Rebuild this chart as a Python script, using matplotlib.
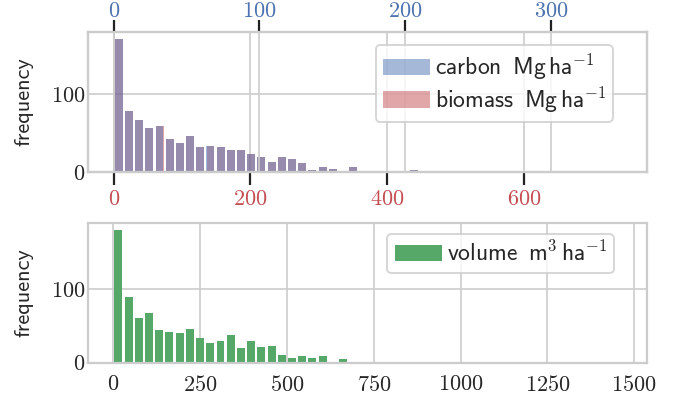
import numpy as np
import matplotlib
matplotlib.use("Agg")
import matplotlib.pyplot as plt
from matplotlib.ticker import FuncFormatter

# --- data: histogram counts (30 bins each) ---
biomass_counts = [170, 78, 67, 57, 59, 42, 37, 46, 32, 33, 32, 28, 28, 23, 19,
                  13, 19, 17, 11, 3, 7, 4, 0, 6, 0, 0, 0, 0, 0, 2]
carbon_counts = [170, 78, 67, 57, 59, 42, 37, 46, 32, 33, 32, 28, 28, 23, 19,
                 13, 19, 17, 11, 3, 7, 4, 0, 6, 0, 0, 0, 0, 0, 2]
volume_counts = [181, 89, 61, 68, 45, 42, 41, 46, 34, 27, 30, 38, 20, 30, 22,
                 23, 10, 6, 9, 6, 9, 1, 5, 1, 0, 1, 0, 0, 0, 0]
biomass_bin_width = 14.9
carbon_bin_width = 6.99
volume_bin_width = 29.4

biomass_ticks = [0, 200, 400, 600]
carbon_ticks = [0, 100, 200, 300]
volume_ticks = [0, 250, 500, 750, 1000, 1250, 1500]

BLUE = "#4C72B0"
RED = "#C44E52"
GREEN = "#55A868"
GRID = "#cccccc"
TEXT = "#262626"

plt.rcParams["font.family"] = "cmss10"
plt.rcParams["mathtext.fontset"] = "cm"
plt.rcParams["axes.unicode_minus"] = False
plt.rcParams["font.size"] = 16

# tick numbers in computer modern roman, like the LaTeX original
cm_numbers = FuncFormatter(lambda v, pos: f"${v:g}$")

fig = plt.figure(figsize=(6.81, 3.98), dpi=100)
ax_b = fig.add_axes([0.1292, 0.5678, 0.8204, 0.3526])
ax_v = fig.add_axes([0.1292, 0.0887, 0.8204, 0.3502])


def style_axes(ax):
    for sp in ax.spines.values():
        sp.set_color(GRID)
        sp.set_linewidth(1.6)
    ax.grid(True, color=GRID, linewidth=1.2)
    ax.set_axisbelow(True)
    ax.tick_params(axis="y", length=0, pad=2, labelcolor=TEXT, labelsize=16)
    ax.xaxis.set_major_formatter(cm_numbers)
    ax.yaxis.set_major_formatter(cm_numbers)


def draw_hist(ax, counts, width, color, alpha):
    left = np.arange(len(counts)) * width
    return ax.bar(left + width / 2, counts, width=0.78 * width,
                  color=color, alpha=alpha, linewidth=0)


# --- top panel: biomass (bottom axis) and carbon (top axis) ---
style_axes(ax_b)
h_bio = draw_hist(ax_b, biomass_counts, biomass_bin_width, RED, 0.5)
ax_b.set_xlim(-37.6, 779.5)
ax_b.set_ylim(0, 180)
ax_b.set_xticks(biomass_ticks)
ax_b.set_yticks([0, 100])
ax_b.tick_params(axis="x", direction="out", length=9, width=1.6,
                 color="#222222", labelcolor=RED, pad=4, labelsize=16)
ax_b.set_ylabel("frequency", color=TEXT)
ax_b.yaxis.set_label_coords(-0.097, 0.5)

ax_c = ax_b.twiny()
for sp in ax_c.spines.values():
    sp.set_color(GRID)
    sp.set_linewidth(1.6)
h_car = draw_hist(ax_c, carbon_counts, carbon_bin_width, BLUE, 0.5)
ax_c.set_xlim(-17.6, 365.6)
ax_c.set_xticks(carbon_ticks)
ax_c.xaxis.set_major_formatter(cm_numbers)
ax_c.grid(True, axis="x", color=GRID, linewidth=1.2)
ax_c.tick_params(axis="x", direction="out", length=9, width=1.6,
                 color="#222222", labelcolor=BLUE, pad=-1.5, labelsize=16)

leg = ax_c.legend([h_car, h_bio],
                  [r"carbon $\,$Mg$\,$ha$^{-1}$",
                   r"biomass $\,$Mg$\,$ha$^{-1}\hspace{0.6}$"],
                  loc="upper right", bbox_to_anchor=(0.94, 0.905),
                  borderaxespad=0, handletextpad=0.2, labelspacing=0.1,
                  borderpad=0.3, fancybox=True, framealpha=0.8,
                  edgecolor=GRID, fontsize=17)
leg.get_frame().set_linewidth(1.4)
for t in leg.get_texts():
    t.set_color(TEXT)

# --- bottom panel: volume ---
style_axes(ax_v)
h_vol = draw_hist(ax_v, volume_counts, volume_bin_width, GREEN, 1.0)
ax_v.set_xlim(-72.8, 1535.8)
ax_v.set_ylim(0, 190)
ax_v.set_xticks(volume_ticks)
ax_v.set_yticks([0, 100])
ax_v.tick_params(axis="x", length=0, pad=8.5, labelcolor=TEXT, labelsize=16)
ax_v.set_ylabel("frequency", color=TEXT)
ax_v.yaxis.set_label_coords(-0.097, 0.5)

leg2 = ax_v.legend([h_vol], [r"volume $\,$m$^3\,$ha$^{-1}\hspace{0.8}$"],
                   loc="upper right", bbox_to_anchor=(0.9415, 0.923),
                   borderaxespad=0, handletextpad=0.2, borderpad=0.3,
                   fancybox=True, framealpha=0.8, edgecolor=GRID, fontsize=17)
leg2.get_frame().set_linewidth(1.4)
for t in leg2.get_texts():
    t.set_color(TEXT)

fig.savefig("out.png", dpi=100)
